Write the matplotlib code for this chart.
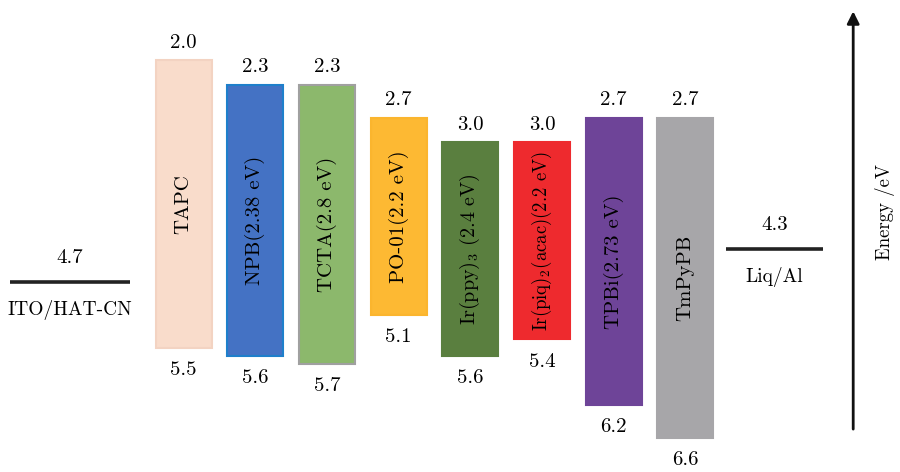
import matplotlib
matplotlib.use("Agg")
import matplotlib.pyplot as plt

plt.rcParams['font.family'] = ['cmr10', 'DejaVu Serif']
plt.rcParams['mathtext.fontset'] = 'cm'

# energy levels (eV below vacuum) for each layer
layers = ['TAPC', 'NPB(2.38 eV)', 'TCTA(2.8 eV)', 'PO-01(2.2 eV)',
          r'Ir(ppy)$_3$ (2.4 eV)', r'Ir(piq)$_2$(acac)(2.2 eV)',
          'TPBi(2.73 eV)', 'TmPyPB']
lumo = [2.0, 2.3, 2.3, 2.7, 3.0, 3.0, 2.7, 2.7]
homo = [5.5, 5.6, 5.7, 5.1, 5.6, 5.4, 6.2, 6.6]

electrodes = ['ITO/HAT-CN', 'Liq/Al']
work_fn = [4.7, 4.3]

fills = ['#F9DCCB', '#4472C4', '#8CB86C', '#FDB933',
         '#5A7F3F', '#EE2A2E', '#6E4498', '#A7A6A9']
edges = ['#F3D3C2', '#1E7FCB', '#A0A0A0', '#FBB52E',
         '#5A7F3F', '#EE2A2E', '#6E4498', '#A7A6A9']
label_sizes = [15, 15, 15, 15, 14.5, 13.5, 15, 15]

fig = plt.figure(figsize=(9, 4.72), dpi=100)
ax = fig.add_axes([0, 0, 1, 1])
ax.set_xlim(0, 900)
ax.set_ylim(7.012, 1.270)
ax.axis('off')

fs = 15
x0, step, w = 183.5, 71.7, 56
for i, name in enumerate(layers):
    xc = x0 + i * step
    ax.bar(xc, homo[i] - lumo[i], bottom=lumo[i], width=w,
           color=fills[i], edgecolor=edges[i], linewidth=1.5)
    ax.annotate(f'{lumo[i]:.1f}', (xc, lumo[i]), xytext=(0, 12.5),
                textcoords='offset points', ha='center', va='center', fontsize=fs)
    ax.annotate(f'{homo[i]:.1f}', (xc, homo[i]), xytext=(0, -16),
                textcoords='offset points', ha='center', va='center', fontsize=fs)
    ax.text(xc, (lumo[i] + homo[i]) / 2, name, rotation=90,
            ha='center', va='center', fontsize=label_sizes[i])

# electrode levels
spans = [(10, 130), (726, 823)]
for name, e, (xa, xb) in zip(electrodes, work_fn, spans):
    ax.plot([xa, xb], [e, e], color='#222222', lw=2.6, solid_capstyle='butt')
    xm = (xa + xb) / 2
    ax.annotate(f'{e:.1f}', (xm, e), xytext=(0, 17),
                textcoords='offset points', ha='center', va='center', fontsize=fs)
    ax.annotate(name, (xm, e), xytext=(0, -20),
                textcoords='offset points', ha='center', va='center', fontsize=14)

# energy axis arrow
ax.annotate('', xy=(0.948, 0.982), xytext=(0.948, 0.085), xycoords='axes fraction',
            arrowprops=dict(arrowstyle='-|>', color='#111111', lw=2,
                            mutation_scale=18))
ax.text(0.983, 0.55, 'Energy /eV', rotation=90, transform=ax.transAxes,
        ha='center', va='center', fontsize=13.5)

fig.savefig('out.png', dpi=100)
